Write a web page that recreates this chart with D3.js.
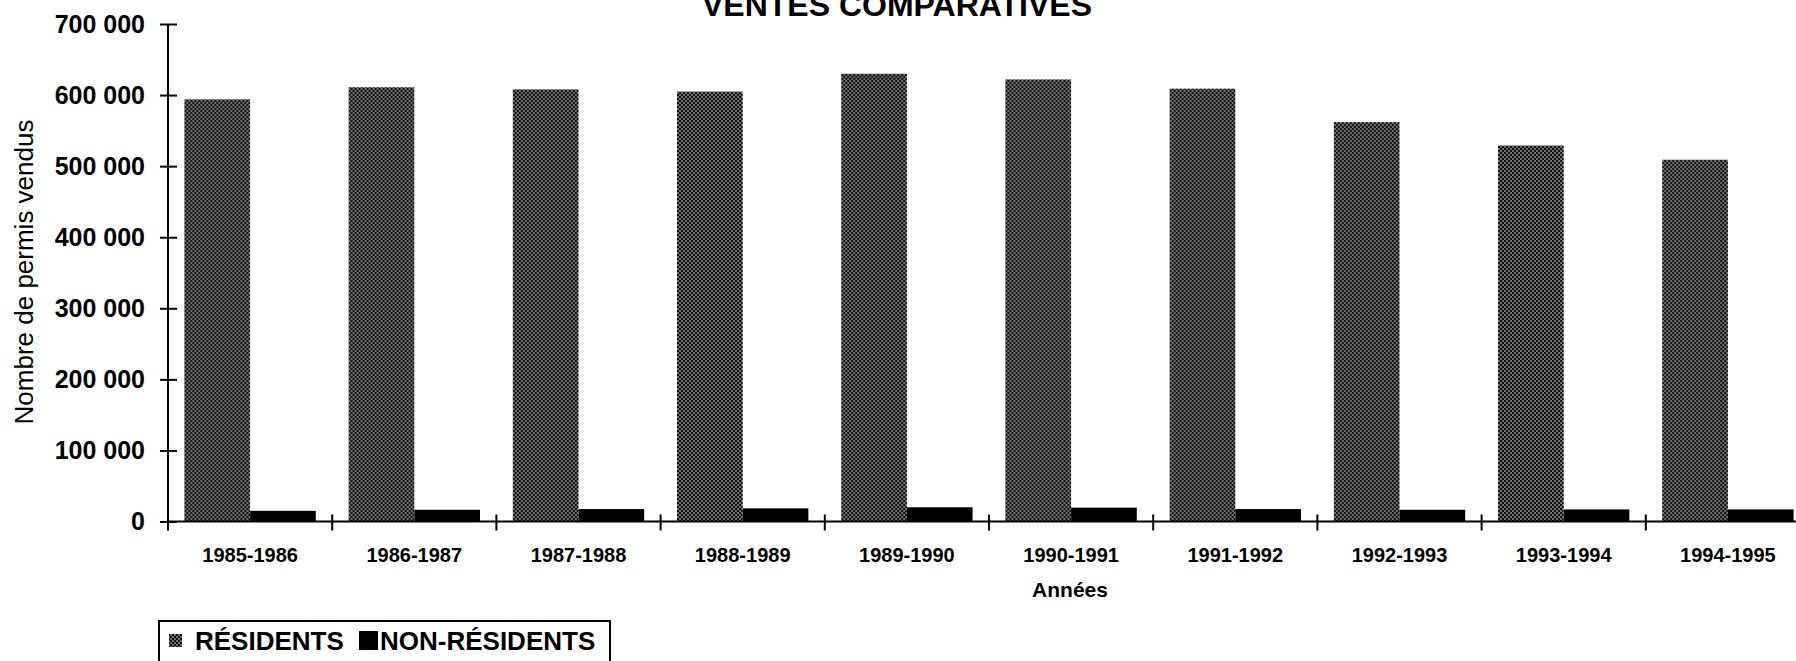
<!DOCTYPE html>
<meta charset="utf-8">
<style>
body { margin: 0; background: #fff; }
svg { display: block; }
text { font-family: "Liberation Sans", Arial, sans-serif; fill: #000; }
.axis text { font-size: 25px; font-weight: bold; }
.axis line, .axis path { stroke: #000; stroke-width: 2; }
.xlab text { font-size: 20px; font-weight: bold; }
</style>
<body>
<svg></svg>
<script src="https://cdn.jsdelivr.net/npm/d3@7"></script>
<script>

var years = ["1985-1986", "1986-1987", "1987-1988", "1988-1989", "1989-1990",
             "1990-1991", "1991-1992", "1992-1993", "1993-1994", "1994-1995"];
var residents = [594000, 611000, 608000, 605000, 630000, 622000, 609000, 562000, 529000, 509000];
var nonResidents = [15000, 16500, 17500, 18500, 20000, 19500, 17500, 16500, 17000, 17000];
var yTicks = [0, 100000, 200000, 300000, 400000, 500000, 600000, 700000];
var seriesNames = ["RÉSIDENTS", "NON-RÉSIDENTS"];

var W = 1796, H = 661;
var x0 = 168, step = 164.2, yBottom = 521.5, yTop = 24;

var svg = d3.select("svg")
    .attr("width", W)
    .attr("height", H);

svg.append("rect").attr("width", W).attr("height", H).attr("fill", "#fff");

// halftone-like fill for the residents bars
var defs = svg.append("defs");
var pat = defs.append("pattern")
    .attr("id", "dots")
    .attr("patternUnits", "userSpaceOnUse")
    .attr("width", 4)
    .attr("height", 4);
pat.append("rect").attr("width", 4).attr("height", 4).attr("fill", "#111");
pat.append("circle").attr("cx", 1).attr("cy", 1).attr("r", 0.75).attr("fill", "#fff");
pat.append("circle").attr("cx", 3).attr("cy", 3).attr("r", 0.75).attr("fill", "#fff");

var x = d3.scaleBand()
    .domain(years)
    .range([x0, x0 + step * years.length])
    .paddingInner(0.2)
    .paddingOuter(0.1);

var xs = d3.scaleBand()
    .domain(seriesNames)
    .range([0, x.bandwidth()]);

var y = d3.scaleLinear()
    .domain([0, 700000])
    .range([yBottom, yTop]);

var fr = d3.formatLocale({decimal: ",", thousands: " ", grouping: [3], currency: ["", ""]});
var fmt = fr.format(",");

var data = years.map(function(d, i) {
  return {year: d, values: [residents[i], nonResidents[i]]};
});

// bars
var groups = svg.selectAll(".grp")
    .data(data)
  .enter().append("g")
    .attr("class", "grp")
    .attr("transform", function(d) { return "translate(" + x(d.year) + ",0)"; });

groups.selectAll("rect")
    .data(function(d) { return d.values.map(function(v, i) { return {s: seriesNames[i], v: v}; }); })
  .enter().append("rect")
    .attr("x", function(d) { return xs(d.s); })
    .attr("y", function(d) { return y(d.v); })
    .attr("width", xs.bandwidth())
    .attr("height", function(d) { return yBottom - y(d.v); })
    .attr("fill", function(d) { return d.s == seriesNames[0] ? "url(#dots)" : "#000"; });

// y axis with crossing ticks
var yAxis = svg.append("g")
    .attr("class", "axis")
    .attr("transform", "translate(" + x0 + ",0)")
    .call(d3.axisLeft(y).tickValues(yTicks).tickSize(8).tickPadding(15).tickFormat(fmt));
yAxis.select(".domain").remove();
yAxis.append("line")
    .attr("y1", yTop).attr("y2", yBottom);
yAxis.selectAll(".tick").append("line").attr("x2", 9);

// x axis: line, boundary ticks, labels
svg.append("line")
    .attr("x1", x0).attr("x2", W)
    .attr("y1", yBottom).attr("y2", yBottom)
    .attr("stroke", "#000").attr("stroke-width", 2);

svg.selectAll(".xtick")
    .data(d3.range(years.length + 1))
  .enter().append("line")
    .attr("class", "xtick")
    .attr("x1", function(i) { return x.range()[0] + i * x.step(); })
    .attr("x2", function(i) { return x.range()[0] + i * x.step(); })
    .attr("y1", yBottom - 7).attr("y2", yBottom + 9)
    .attr("stroke", "#000").attr("stroke-width", 2);

var xAxis = svg.append("g")
    .attr("class", "xlab")
    .attr("transform", "translate(0," + yBottom + ")")
    .call(d3.axisBottom(x).tickSize(0).tickPadding(26));
xAxis.select(".domain").remove();

// titles (the scan cuts the top of the main title)
svg.append("text")
    .attr("x", 897).attr("y", 16)
    .attr("text-anchor", "middle")
    .style("font-size", "32px").style("font-weight", "bold")
    .text("VENTES COMPARATIVES");

svg.append("text")
    .attr("transform", "translate(33,272) rotate(-90)")
    .attr("text-anchor", "middle")
    .style("font-size", "26px")
    .text("Nombre de permis vendus");

svg.append("text")
    .attr("x", 1070).attr("y", 597)
    .attr("text-anchor", "middle")
    .style("font-size", "21px").style("font-weight", "bold")
    .text("Années");

// legend
var leg = svg.append("g");
leg.append("rect")
    .attr("x", 159).attr("y", 621)
    .attr("width", 451).attr("height", 60)
    .attr("fill", "none").attr("stroke", "#000").attr("stroke-width", 2);
leg.append("rect")
    .attr("x", 169).attr("y", 634).attr("width", 13).attr("height", 13)
    .attr("fill", "url(#dots)");
leg.append("text")
    .attr("x", 195).attr("y", 650)
    .style("font-size", "26px").style("font-weight", "bold")
    .text(seriesNames[0]);
leg.append("rect")
    .attr("x", 359).attr("y", 631).attr("width", 19).attr("height", 19)
    .attr("fill", "#000");
leg.append("text")
    .attr("x", 380).attr("y", 650)
    .style("font-size", "26px").style("font-weight", "bold")
    .text(seriesNames[1]);

</script>
